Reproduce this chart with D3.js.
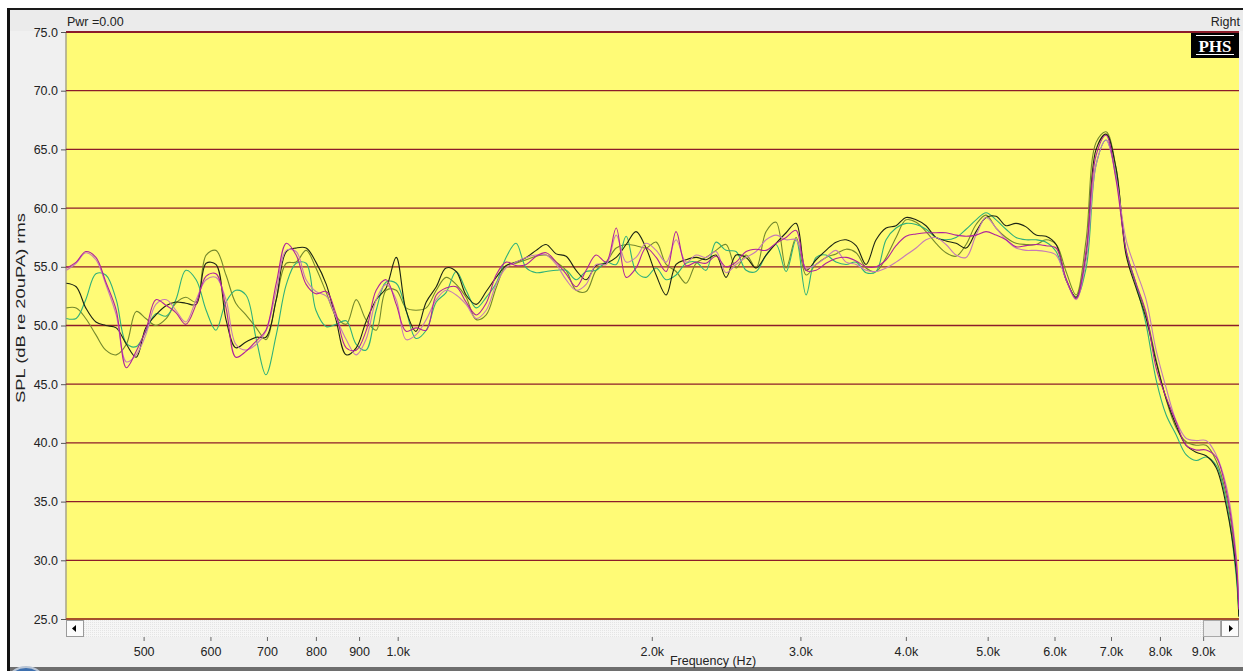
<!DOCTYPE html>
<html><head><meta charset="utf-8">
<script src="https://cdn.jsdelivr.net/npm/d3@7"></script>
<style>body{margin:0;background:#fff;} svg{display:block;font-family:"Liberation Sans",Arial,sans-serif;}</style>
</head><body><svg id="c" width="1243" height="671"></svg>
<script>
// Frequencies (Hz) shared by all traces
const freqHz = [405,416,427,439,451,464,477,490,503,517,532,546,561,577,593,609,626,643,661,680,
698,718,738,758,779,800,823,845,869,893,917,943,969,996,1023,1051,1081,1111,1141,1173,
1205,1239,1273,1308,1344,1381,1420,1459,1499,1541,1583,1627,1672,1718,1766,1815,1865,1916,1969,2024,
2080,2137,2196,2257,2319,2383,2449,2517,2587,2658,2732,2807,2885,2965,3047,3131,3217,3306,3398,3492,
3588,3688,3790,3894,4002,4113,4226,4343,4463,4587,4714,4844,4978,5116,5257,5403,5552,5706,5863,6026,
6192,6364,6540,6721,6906,7097,7294,7495,7703,7916,8135,8360,8591,8829,9073,9324,9582,9847,9920];

// SPL traces (dB re 20uPa)
const splMagenta = [54.9,55.4,56.3,55.8,53.7,51.3,46.4,47.8,49.6,52.2,
51.7,51.1,50.1,51.8,54.2,54.4,51.5,47.3,47.8,48.7,
49.6,53.6,57.0,56.0,53.5,52.7,52.9,51.0,48.1,47.9,
49.5,53.0,53.9,51.8,49.5,49.8,49.6,52.6,53.2,53.3,
52.0,50.9,51.9,54.3,55.4,55.1,55.2,55.9,56.2,55.4,
54.4,53.3,54.7,56.0,55.4,58.3,54.1,54.9,56.6,55.8,
54.6,58.0,55.1,55.4,55.3,55.9,55.0,55.4,56.3,56.5,
56.4,57.0,57.5,58.1,54.7,54.7,55.3,55.7,55.8,55.5,
55.0,55.0,55.6,56.8,57.6,57.8,57.9,57.9,57.9,57.7,
57.6,57.7,58.0,57.7,57.3,56.7,56.8,56.9,56.8,56.6,
54.0,52.3,56.4,64.5,66.2,62.4,56.4,53.6,51.1,46.4,
43.9,41.8,39.8,39.4,39.4,38.8,36.0,30.0,25.8];

const splMauve = [54.7,55.3,56.2,55.6,53.5,50.9,46.9,47.5,49.2,51.8,
52.2,51.3,50.3,52.2,53.9,54.1,52.2,48.4,47.9,48.4,
49.5,53.0,56.4,56.3,53.9,52.9,52.5,50.7,48.8,47.5,
48.8,52.2,53.5,52.2,48.8,49.2,50.5,52.2,53.0,52.6,
51.8,50.6,51.3,53.5,54.9,55.4,55.8,56.0,56.0,55.2,
53.9,53.0,53.5,55.2,55.2,57.7,55.4,55.8,57.0,56.4,
55.4,57.3,55.4,56.0,55.8,56.3,54.5,55.2,55.8,56.3,
57.3,57.7,57.3,57.3,54.9,55.2,55.8,56.4,55.4,55.2,
54.7,54.6,54.9,55.4,56.0,56.6,57.3,57.5,56.9,56.0,
55.8,57.7,59.2,58.3,57.3,56.6,56.4,56.4,56.3,56.0,
53.9,52.2,55.6,63.7,65.8,62.6,57.3,54.7,52.2,47.9,
44.7,41.9,40.4,40.2,40.2,39.0,36.4,30.5,26.0];

const splTeal = [50.6,50.6,52.2,54.4,54.3,52.2,48.5,48.2,49.5,51.0,
50.8,52.2,54.7,53.9,51.3,49.6,52.0,53.0,52.6,48.8,
45.8,49.2,53.5,55.3,55.3,51.3,49.9,50.1,50.4,48.4,
47.9,51.3,53.7,53.6,51.3,48.9,49.6,52.0,52.8,54.6,
53.0,51.5,52.4,53.6,55.8,57.0,54.9,54.5,54.6,54.7,
54.7,53.9,54.6,54.7,55.4,55.2,57.6,54.6,54.1,54.9,
53.9,54.3,55.3,55.4,54.7,57.1,56.4,56.3,54.7,54.6,
56.0,56.9,54.6,57.3,52.6,55.8,56.0,55.4,55.2,55.4,
54.5,54.6,57.3,58.3,58.7,58.6,58.2,57.5,57.3,57.5,
58.2,59.0,59.6,59.0,58.2,57.5,57.3,57.3,57.1,56.3,
53.9,52.4,54.9,63.7,65.8,62.8,56.4,53.5,50.1,45.4,
42.4,40.7,39.0,38.5,38.8,38.1,35.1,28.7,25.3];

const splOlive = [51.5,51.5,50.6,49.2,47.9,47.5,48.4,51.2,50.6,50.0,
50.6,51.9,52.4,52.0,56.0,56.4,54.3,51.9,50.9,49.8,
48.8,52.2,55.3,55.4,56.4,54.9,52.8,50.8,50.1,52.2,
50.5,49.6,53.0,53.0,51.5,51.3,51.5,53.0,54.1,53.5,
52.4,50.5,50.9,53.2,55.1,55.3,55.6,55.9,56.0,55.4,
54.7,53.0,52.9,54.7,55.4,56.6,56.9,56.8,56.6,57.1,
55.2,54.6,53.6,55.3,55.8,56.4,56.9,54.9,56.0,54.9,
58.0,58.8,54.9,57.5,54.3,55.2,55.8,56.1,56.5,56.2,
54.9,54.6,55.8,57.5,59.0,58.8,58.0,57.0,56.2,55.9,
56.9,58.6,59.4,58.3,57.5,57.0,56.9,56.9,57.3,56.9,
54.6,52.6,57.3,65.6,66.5,63.4,56.3,53.5,50.9,47.1,
43.7,41.3,40.1,39.8,39.8,38.5,35.6,29.6,25.6];

const splBlack = [53.6,53.3,51.5,50.3,50.0,49.8,48.4,47.3,49.8,50.9,
51.7,52.0,51.9,51.8,55.3,55.2,50.5,48.1,48.6,49.0,
49.0,52.2,56.3,56.6,56.6,55.4,53.5,50.5,47.5,48.1,
50.3,52.2,53.2,55.8,51.3,49.5,52.0,53.3,54.9,54.6,
52.6,51.8,52.9,54.1,55.1,55.4,55.8,56.4,56.9,56.1,
55.9,54.7,53.9,55.1,55.3,55.8,56.9,58.0,56.6,54.3,
52.6,55.2,55.6,55.8,55.6,56.0,54.1,56.0,55.8,54.9,
56.0,57.0,57.9,58.7,54.7,55.6,56.4,57.1,57.3,56.8,
55.2,57.3,58.3,58.5,59.2,59.0,58.5,57.5,57.2,57.0,
56.6,58.0,59.2,59.3,58.5,58.7,58.4,57.7,57.6,56.9,
53.9,52.4,55.9,65.0,66.3,63.4,56.0,53.2,50.6,46.9,
43.8,41.5,39.8,39.2,38.9,37.9,34.7,29.2,25.2];

const seriesNames = ["olive","teal","black","mauve","magenta"];
const seriesColors = ["#74882c","#2fb07a","#1c2414","#c67ab8","#b0229c"];
const seriesValues = [splOlive, splTeal, splBlack, splMauve, splMagenta];

const yTicks = [25,30,35,40,45,50,55,60,65,70,75];
const xTicks = [500,600,700,800,900,1000,2000,3000,4000,5000,6000,7000,8000,9000];
const xTickLabels = ["500","600","700","800","900","1.0k","2.0k","3.0k","4.0k","5.0k","6.0k","7.0k","8.0k","9.0k"];

const W = 1243, H = 671;
const P = {left:66, right:1239, top:32, bottom:619};
const svg = d3.select("#c");
const x = d3.scaleLog().domain([404.6, 9925]).range([P.left, P.right]);
const y = d3.scaleLinear().domain([25, 75]).range([P.bottom, P.top]);

// window frame
svg.append("rect").attr("x",0).attr("y",0).attr("width",W).attr("height",H).attr("fill","#fff");
svg.append("rect").attr("x",9).attr("y",10).attr("width",W-9).attr("height",657).attr("fill","#f0f0f0");
svg.append("rect").attr("x",10).attr("y",10).attr("width",W-10).attr("height",21).attr("fill","#ebebeb");
svg.append("rect").attr("x",7).attr("y",8).attr("width",W-7).attr("height",2).attr("fill","#1a1a1a");
svg.append("rect").attr("x",7).attr("y",8).attr("width",3).attr("height",H-8).attr("fill","#111");
svg.append("rect").attr("x",10).attr("y",667).attr("width",W-10).attr("height",4).attr("fill","#6e6e6e");
svg.append("circle").attr("cx",26).attr("cy",688).attr("r",21).attr("fill","#3d6fae").attr("stroke","#b8c4d4").attr("stroke-width",2);

// header texts
svg.append("text").attr("x",67).attr("y",26).attr("font-size",12.5).attr("fill","#222").text("Pwr =0.00");
svg.append("text").attr("x",1240).attr("y",26).attr("font-size",12.5).attr("fill","#222").attr("text-anchor","end").text("Right");

// plot area
svg.append("rect").attr("x",P.left).attr("y",P.top).attr("width",P.right-P.left).attr("height",P.bottom-P.top).attr("fill","#fffb76");
svg.append("line").attr("x1",P.left).attr("x2",P.left).attr("y1",P.top).attr("y2",P.bottom).attr("stroke","#a8a488").attr("stroke-width",1.5);

// gridlines
svg.append("g").selectAll("line").data(yTicks).join("line")
  .attr("x1",P.left).attr("x2",P.right)
  .attr("y1",d=>y(d)).attr("y2",d=>y(d))
  .attr("stroke",d=> d===25 ? "#a4502c" : "#8c1c2a")
  .attr("stroke-width",d=> (d===75||d===25)?2:1.3);

// y axis ticks and labels
const yAxis = d3.axisLeft(y).tickValues(yTicks).tickFormat(d=>d.toFixed(1)).tickSize(5).tickPadding(3);
const gy = svg.append("g").attr("transform",`translate(${P.left},0)`).call(yAxis);
gy.select(".domain").remove();
gy.selectAll(".tick line").attr("stroke","#555");
gy.selectAll(".tick text").attr("font-size",12.5).attr("fill","#222").attr("font-family","Liberation Sans, Arial, sans-serif");

svg.append("text").attr("transform","translate(25,308) rotate(-90)").attr("text-anchor","middle")
  .attr("font-size",13).attr("fill","#222").attr("textLength",190).attr("lengthAdjust","spacingAndGlyphs")
  .text("SPL (dB re 20uPA) rms");

// PHS logo
svg.append("rect").attr("x",1191).attr("y",33).attr("width",48).attr("height",25).attr("fill","#000");
svg.append("text").attr("x",1215).attr("y",52).attr("text-anchor","middle").attr("font-family","Liberation Serif, Times New Roman, serif")
  .attr("font-weight","bold").attr("font-size",17).attr("fill","#fff").text("PHS");
svg.append("line").attr("x1",1196).attr("x2",1234).attr("y1",54.5).attr("y2",54.5).attr("stroke","#fff").attr("stroke-width",1);
svg.append("line").attr("x1",1196).attr("x2",1234).attr("y1",35.5).attr("y2",35.5).attr("stroke","#fff").attr("stroke-width",1);

// traces
const clip = svg.append("clipPath").attr("id","pc").append("rect")
  .attr("x",P.left).attr("y",P.top).attr("width",P.right-P.left).attr("height",P.bottom-P.top);
const line = d3.line().x(d=>x(d[0])).y(d=>y(d[1])).curve(d3.curveCatmullRom.alpha(0.5));
const gl = svg.append("g").attr("clip-path","url(#pc)");
seriesValues.forEach((vals,i)=>{
  const pts = freqHz.map((f,j)=>[f, vals[j]]);
  gl.append("path").datum(pts).attr("d",line).attr("fill","none")
    .attr("stroke",seriesColors[i]).attr("stroke-width",1.1).attr("class","trace-"+seriesNames[i]);
});

// scrollbar
const defs = svg.append("defs");
const pat = defs.append("pattern").attr("id","dots").attr("width",2).attr("height",2).attr("patternUnits","userSpaceOnUse");
pat.append("rect").attr("width",2).attr("height",2).attr("fill","#f6f6f6");
pat.append("rect").attr("width",1).attr("height",1).attr("fill","#e4e4e4");
svg.append("rect").attr("x",P.left).attr("y",620).attr("width",P.right-P.left).attr("height",17).attr("fill","url(#dots)");
svg.append("rect").attr("x",P.left+0.5).attr("y",620.5).attr("width",17).attr("height",16).attr("fill","#fbfbfb").attr("stroke","#9a9a9a");
svg.append("path").attr("d",`M${P.left+6},628.5 L${P.left+10},625 L${P.left+10},632 Z`).attr("fill","#000");
svg.append("rect").attr("x",1203.5).attr("y",620.5).attr("width",17).attr("height",16).attr("fill","#ececec").attr("stroke","#a8a8a8");
svg.append("rect").attr("x",1221.5).attr("y",620.5).attr("width",17).attr("height",16).attr("fill","#fbfbfb").attr("stroke","#9a9a9a");
svg.append("path").attr("d",`M1233,628.5 L1229,625 L1229,632 Z`).attr("fill","#000");

// x axis
const xAxis = d3.axisBottom(x).tickValues(xTicks).tickFormat((d,i)=>xTickLabels[i]).tickSize(4).tickPadding(6);
const gx = svg.append("g").attr("transform","translate(0,637)").call(xAxis);
gx.select(".domain").remove();
gx.selectAll(".tick line").attr("stroke","#666");
gx.selectAll(".tick text").attr("font-size",12.5).attr("fill","#222").attr("font-family","Liberation Sans, Arial, sans-serif");

svg.append("text").attr("x",713).attr("y",665).attr("text-anchor","middle").attr("font-size",12.5).attr("fill","#222").text("Frequency (Hz)");
</script></body></html>
